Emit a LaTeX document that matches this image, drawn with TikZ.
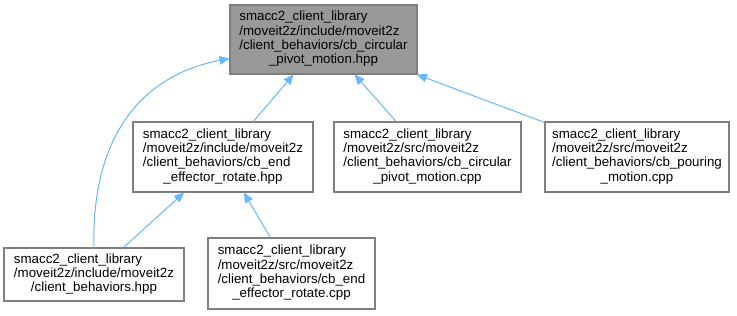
\documentclass[tikz,border=0pt]{standalone}
\usepackage{fontspec}
\setmainfont{Liberation Sans}
\usetikzlibrary{arrows.meta,calc}
\definecolor{edgeblue}{HTML}{63B8FF}
\definecolor{boxline}{HTML}{7F7F7F}
\definecolor{rootfill}{HTML}{999999}
% file label: left-aligned lines, last line centred
\newcommand\flines[1]{\begin{tabular}{@{}l@{}}#1\end{tabular}}
\newcommand\lastline[1]{\multicolumn{1}{@{}c@{}}{#1}}
\begin{document}
\begin{tikzpicture}[x=0.75pt,y=-0.75pt,
  file/.style={draw=boxline, line width=0.8pt, fill=white, inner sep=0pt,
    font=\fontsize{10}{10.7}\selectfont},
  boxsize/.style 2 args={minimum width=#1*0.75pt, minimum height=#2*0.75pt},
  root/.style={fill=rootfill},
  edge/.style={draw=edgeblue, line width=0.75pt,
    {Triangle[length=7.5pt,width=6.5pt]}-}]
\useasboundingbox (0,0) rectangle (737,315);

\node[file,root,boxsize={187}{69}] (top) at (323.5,39.5)
  {\flines{smacc2\_client\_library\\/moveit2z/include/moveit2z\\/client\_behaviors/cb\_circular\\\lastline{\_pivot\_motion.hpp}}};
\node[file,boxsize={180}{70}] (eeh) at (223,157)
  {\flines{smacc2\_client\_library\\/moveit2z/include/moveit2z\\/client\_behaviors/cb\_end\\\lastline{\_effector\_rotate.hpp}}};
\node[file,boxsize={187}{70}] (circ) at (427.5,157)
  {\flines{smacc2\_client\_library\\/moveit2z/src/moveit2z\\/client\_behaviors/cb\_circular\\\lastline{\_pivot\_motion.cpp}}};
\node[file,boxsize={184}{70}] (pour) at (637,157)
  {\flines{smacc2\_client\_library\\/moveit2z/src/moveit2z\\/client\_behaviors/cb\_pouring\\\lastline{\_motion.cpp}}};
\node[file,boxsize={180}{53}] (cbh) at (94,274.5)
  {\flines{smacc2\_client\_library\\/moveit2z/include/moveit2z\\\lastline{/client\_behaviors.hpp}}};
\node[file,boxsize={167}{71}] (eecpp) at (291.5,273.5)
  {\flines{smacc2\_client\_library\\/moveit2z/src/moveit2z\\/client\_behaviors/cb\_end\\\lastline{\_effector\_rotate.cpp}}};

\coordinate (topin) at ($(top.south west)+(0,-16)$);

\draw[edge] (top) -- (eeh);
\draw[edge] (top) -- (circ);
\draw[edge] (top) -- (pour);
\draw[edge] (eeh) -- (cbh);
\draw[edge] (eeh) -- (eecpp);
\draw[edge] (topin) .. controls +(-90,17) and +(-3,-108) .. (cbh.north);
\end{tikzpicture}
\end{document}
